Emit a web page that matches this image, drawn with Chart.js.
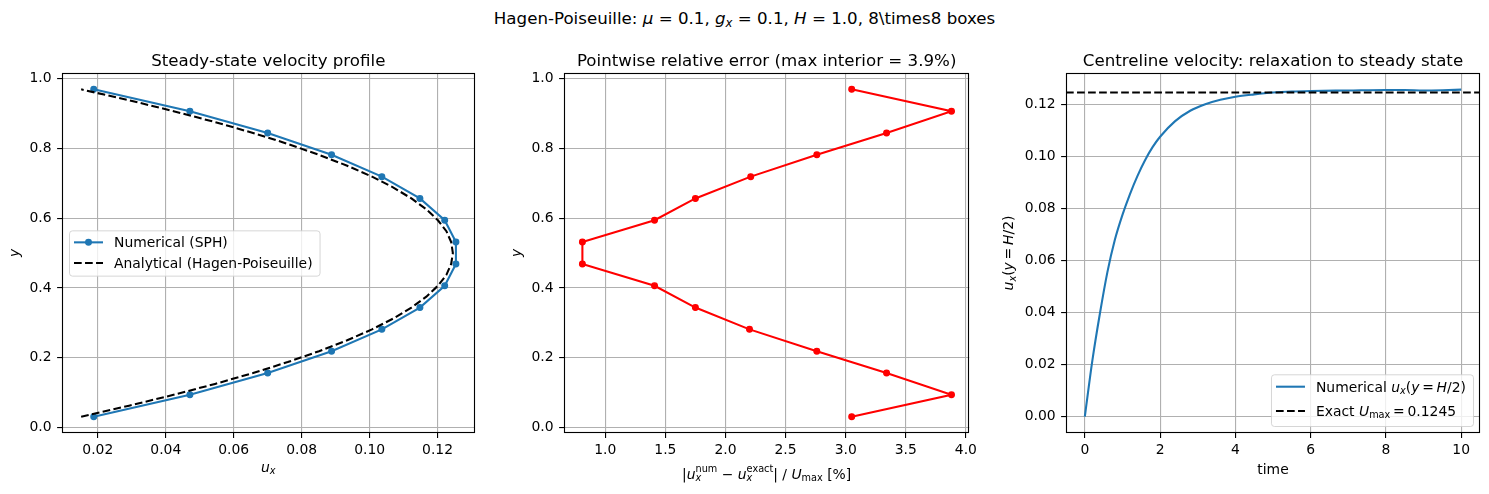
<!DOCTYPE html>
<html>
<head>
<meta charset="utf-8">
<script src="https://cdn.jsdelivr.net/npm/chart.js@4.4.1/dist/chart.umd.min.js"></script>
<style>
  body { margin: 0; background: #fff; width: 1489px; height: 494px; position: relative; overflow: hidden; font-family: 'DejaVu Sans', sans-serif; }
  canvas { position: absolute; }
  #suptitle { position: absolute; left: 0; top: 9px; width: 1489px; text-align: center; font-size: 16.67px; line-height: 20px; color: #000; }
  #suptitle sub { font-size: 0.7em; vertical-align: -0.25em; line-height: 0; }
</style>
</head>
<body>
<div id="suptitle">Hagen-Poiseuille: <i>μ</i> = 0.1, <i>g</i><sub><i>x</i></sub> = 0.1, <i>H</i> = 1.0, 8\times8 boxes</div>
<canvas id="profile"></canvas>
<canvas id="error"></canvas>
<canvas id="centre"></canvas>
<script>
// --- data ---
// particle rows (bottom -> top)
const yRows = [0.03125, 0.09375, 0.15625, 0.21875, 0.28125, 0.34375, 0.40625, 0.46875,
               0.53125, 0.59375, 0.65625, 0.71875, 0.78125, 0.84375, 0.90625, 0.96875];
const uNumerical = [0.0188, 0.0471, 0.0700, 0.0888, 0.1036, 0.1148, 0.1221, 0.1254,
                    0.1254, 0.1221, 0.1148, 0.1036, 0.0888, 0.0700, 0.0471, 0.0188];

// analytical profile (dashed)
const yFine = [0.03125, 0.0625, 0.09375, 0.125, 0.15625, 0.1875, 0.21875, 0.25, 0.28125, 0.3125,
               0.34375, 0.375, 0.40625, 0.4375, 0.46875, 0.5, 0.53125, 0.5625, 0.59375, 0.625,
               0.65625, 0.6875, 0.71875, 0.75, 0.78125, 0.8125, 0.84375, 0.875, 0.90625, 0.9375, 0.96875];
const uAnalytical = [0.0151, 0.0292, 0.0423, 0.0545, 0.0657, 0.0759, 0.0851, 0.0934, 0.1007, 0.1070,
                     0.1123, 0.1167, 0.1201, 0.1226, 0.1240, 0.1245, 0.1240, 0.1226, 0.1201, 0.1167,
                     0.1123, 0.1070, 0.1007, 0.0934, 0.0851, 0.0759, 0.0657, 0.0545, 0.0423, 0.0292, 0.0151];

// pointwise relative error [%]
const errPct = [3.05, 3.88, 3.34, 2.76, 2.20, 1.75, 1.41, 0.81,
                0.81, 1.41, 1.75, 2.21, 2.76, 3.34, 3.88, 3.05];

// centreline velocity vs time
const tSteps = [0, 0.2, 0.4, 0.6, 0.8, 1.0, 1.2, 1.4, 1.6, 1.8, 2.0, 2.4, 2.8, 3.2, 3.6, 4.0,
                4.5, 5.0, 5.5, 6.0, 7.0, 8.0, 8.5, 9.0, 9.5, 10.0];
const uCentre = [0, 0.0215, 0.0395, 0.0555, 0.0680, 0.0775, 0.0855, 0.0925, 0.0985, 0.1035, 0.1075,
                 0.1135, 0.1175, 0.1200, 0.1217, 0.1229, 0.1238, 0.1245, 0.1249, 0.1251, 0.1253,
                 0.1255, 0.1255, 0.1253, 0.1254, 0.1256];
const U_MAX = 0.1245;

// axis limits and ticks
const profXLim = [0.00946, 0.1309];
const rowYLim = [-0.0156, 1.0156];
const errXLim = [0.657, 4.028];
const timeLim = [-0.5, 10.5];
const centreYLim = [-0.0063, 0.1320];
const profXTicks = [0.02, 0.04, 0.06, 0.08, 0.10, 0.12];
const rowYTicks = [0.0, 0.2, 0.4, 0.6, 0.8, 1.0];
const errXTicks = [1.0, 1.5, 2.0, 2.5, 3.0, 3.5, 4.0];
const timeTicks = [0, 2, 4, 6, 8, 10];
const centreYTicks = [0, 0.02, 0.04, 0.06, 0.08, 0.10, 0.12];

const BLUE = '#1f77b4', RED = '#ff0000';
const LW = 2.08;                 // 1.5pt
const THIN = 1.11;               // 0.8pt
const DASH = [7.7, 3.33];
const TITLE_H = 40, X_AXIS_H = 61, PAD_R = 3;
const FONT = "'DejaVu Sans'";
const EQ = '\u2009=\u2009';

Chart.defaults.font.family = FONT + ", sans-serif";
Chart.defaults.color = '#000';

const pts = (xs, ys) => xs.map((x, i) => ({ x, y: ys[i] }));

// tiny mathtext-ish renderer: parts are [text, style, stackOnPrevious]
const STY = {
  r:  { it: false, k: 1,   dy: 0 },
  i:  { it: true,  k: 1,   dy: 0 },
  ib: { it: true,  k: 0.7, dy: 0.2 },
  rb: { it: false, k: 0.7, dy: 0.17 },
  rp: { it: false, k: 0.7, dy: -0.5 }
};
function layoutRich(ctx, parts, size) {
  let x = 0, prevStart = 0;
  const items = parts.map(([t, st, back]) => {
    const s = STY[st];
    const font = `${s.it ? 'italic ' : ''}${size * s.k}px ${FONT}`;
    ctx.font = font;
    const w = ctx.measureText(t).width;
    const x0 = back ? prevStart : x;
    prevStart = x0;
    x = Math.max(x, x0 + w);
    return { t, font, x: x0, dy: s.dy * size };
  });
  return { items, width: x };
}
function drawRich(ctx, parts, cx, cy, size, rotate, align) {
  const { items, width } = layoutRich(ctx, parts, size);
  const off = align === 'left' ? 0 : -width / 2;
  ctx.save();
  ctx.translate(cx, cy);
  if (rotate) ctx.rotate(-Math.PI / 2);
  ctx.fillStyle = '#000';
  ctx.textBaseline = 'alphabetic';
  ctx.textAlign = 'left';
  items.forEach(it => { ctx.font = it.font; ctx.fillText(it.t, off + it.x, it.dy); });
  ctx.restore();
}

// spines, subplot title and axis labels
const framePlugin = {
  id: 'frame',
  afterDatasetsDraw(chart, args, opts) {
    const { ctx, chartArea: a } = chart;
    ctx.save();
    ctx.strokeStyle = '#000';
    ctx.lineWidth = THIN;
    ctx.strokeRect(Math.round(a.left) + 0.5, Math.round(a.top) + 0.5,
                   Math.round(a.right - a.left) - 1, Math.round(a.bottom - a.top) - 1);
    ctx.fillStyle = '#000';
    ctx.font = `16.67px ${FONT}`;
    ctx.textAlign = 'center';
    ctx.textBaseline = 'alphabetic';
    ctx.fillText(opts.title, (a.left + a.right) / 2, a.top - 7.5);
    ctx.restore();
    drawRich(ctx, opts.xTitle, (a.left + a.right) / 2, a.bottom + opts.xDy, 13.9, false);
    drawRich(ctx, opts.yTitle, a.left - opts.yDx, (a.top + a.bottom) / 2, 13.9, true);
  }
};

// matplotlib-like legend inside the axes
const legendPlugin = {
  id: 'mplLegend',
  afterDraw(chart, args, opts) {
    if (!opts || !opts.loc) return;
    const { ctx, chartArea: a } = chart;
    const items = chart.data.datasets.filter(d => d.label);
    ctx.save();
    const textW = Math.max(...items.map(d => layoutRich(ctx, d.labelParts || [[d.label, 'r']], 13.9).width));
    const w = 45 + textW + 7;
    const h = opts.padTop + opts.rowStep * (items.length - 1) + opts.padBottom;
    let x0, y0;
    if (opts.loc === 'center left') { x0 = a.left + 7; y0 = (a.top + a.bottom) / 2 - h / 2; }
    else { x0 = a.right - 7 - w; y0 = a.bottom - 7 - h; }
    ctx.beginPath();
    ctx.roundRect(x0 + 0.5, y0 + 0.5, w, h, 3);
    ctx.fillStyle = 'rgba(255,255,255,0.8)';
    ctx.fill();
    ctx.strokeStyle = 'rgba(204,204,204,0.8)';
    ctx.lineWidth = 1;
    ctx.stroke();
    items.forEach((d, i) => {
      const y = y0 + opts.padTop + i * opts.rowStep;
      ctx.beginPath();
      ctx.setLineDash(d.borderDash || []);
      ctx.strokeStyle = d.borderColor;
      ctx.lineWidth = d.borderWidth;
      ctx.moveTo(x0 + 5, y);
      ctx.lineTo(x0 + 34, y);
      ctx.stroke();
      ctx.setLineDash([]);
      if (d.pointRadius > 0) {
        ctx.beginPath();
        ctx.arc(x0 + 19.5, y, d.pointRadius + d.pointBorderWidth / 2, 0, Math.PI * 2);
        ctx.fillStyle = d.borderColor;
        ctx.fill();
      }
      drawRich(ctx, d.labelParts || [[d.label, 'r']], x0 + 45, y + 5, 13.9, false, 'left');
    });
    ctx.restore();
  }
};

function linAxis(o) {
  return {
    type: 'linear',
    min: o.lim[0], max: o.lim[1],
    afterBuildTicks: s => { s.ticks = o.ticks.map(v => ({ value: v })); },
    afterFit: s => { if (o.w) s.width = o.w; if (o.h) s.height = o.h; },
    ticks: { callback: v => v.toFixed(o.dec), font: { size: 13.9 }, color: '#000',
             padding: o.w ? 5.5 : 4, maxRotation: 0, autoSkip: false },
    grid: { color: '#b0b0b0', lineWidth: THIN, tickColor: '#000', tickLength: 4.9, tickWidth: THIN },
    border: { display: false },
    title: { display: false }
  };
}

function makeChart(id, box, yW, labels, datasets, scales, legendOpts) {
  const c = document.getElementById(id);
  c.width = box.R - box.L + yW + PAD_R;
  c.height = box.B - box.T + TITLE_H + X_AXIS_H;
  c.style.left = (box.L - yW) + 'px';
  c.style.top = (box.T - TITLE_H) + 'px';
  return new Chart(c, {
    type: 'scatter',
    data: { datasets },
    options: {
      responsive: false, animation: false, devicePixelRatio: 1,
      layout: { padding: { left: 0, right: PAD_R, top: TITLE_H, bottom: 0 } },
      scales,
      plugins: {
        legend: { display: false },
        tooltip: { enabled: false },
        title: { display: false },
        frame: labels,
        mplLegend: legendOpts || {}
      }
    },
    plugins: [framePlugin, legendPlugin]
  });
}

// --- left: velocity profile ---
makeChart('profile', { L: 62, R: 477, T: 73, B: 433 }, 62, {
  title: 'Steady-state velocity profile',
  xTitle: [['u', 'i'], ['x', 'ib']], xDy: 38.5,
  yTitle: [['y', 'i']], yDx: 43.5
}, [
  { label: 'Numerical (SPH)', data: pts(uNumerical, yRows), showLine: true, order: 1,
    borderColor: BLUE, backgroundColor: BLUE, borderWidth: LW,
    pointRadius: 2.8, pointBorderWidth: 1.39, pointBorderColor: BLUE, pointBackgroundColor: BLUE },
  { label: 'Analytical (Hagen-Poiseuille)', data: pts(uAnalytical, yFine), showLine: true, order: 0,
    borderColor: '#000', borderWidth: LW, borderDash: DASH, pointRadius: 0 }
], {
  x: linAxis({ lim: profXLim, ticks: profXTicks, dec: 2, h: X_AXIS_H }),
  y: linAxis({ lim: rowYLim, ticks: rowYTicks, dec: 1, w: 62 })
}, { loc: 'center left', rowStep: 20.6, padTop: 12, padBottom: 12.7 });

// --- middle: relative error ---
makeChart('error', { L: 564, R: 978, T: 73, B: 433 }, 62, {
  title: 'Pointwise relative error (max interior = 3.9%)',
  xTitle: [['|', 'r'], ['u', 'i'], ['x', 'ib'], ['num', 'rp', true], [' − ', 'r'], ['u', 'i'], ['x', 'ib'],
           ['exact', 'rp', true], ['| / ', 'r'], ['U', 'i'], ['max', 'rb'], [' [%]', 'r']],
  xDy: 45.5,
  yTitle: [['y', 'i']], yDx: 43.5
}, [
  { label: '', data: pts(errPct, yRows), showLine: true,
    borderColor: RED, backgroundColor: RED, borderWidth: LW,
    pointRadius: 2.8, pointBorderWidth: 1.39, pointBorderColor: RED, pointBackgroundColor: RED }
], {
  x: linAxis({ lim: errXLim, ticks: errXTicks, dec: 1, h: X_AXIS_H }),
  y: linAxis({ lim: rowYLim, ticks: rowYTicks, dec: 1, w: 62 })
});

// --- right: centreline relaxation ---
makeChart('centre', { L: 1066, R: 1480, T: 73, B: 433 }, 72, {
  title: 'Centreline velocity: relaxation to steady state',
  xTitle: [['time', 'r']], xDy: 41,
  yTitle: [['u', 'i'], ['x', 'ib'], ['(', 'r'], ['y', 'i'], [EQ, 'r'], ['H', 'i'], ['/2)', 'r']], yDx: 53
}, [
  { label: 'Numerical u_x(y = H/2)', data: pts(tSteps, uCentre), showLine: true, order: 1,
    labelParts: [['Numerical ', 'r'], ['u', 'i'], ['x', 'ib'], ['(', 'r'], ['y', 'i'], [EQ, 'r'], ['H', 'i'], ['/2)', 'r']],
    borderColor: BLUE, borderWidth: LW, pointRadius: 0, cubicInterpolationMode: 'monotone' },
  { label: 'Exact U_max = 0.1245', data: pts(timeLim, [U_MAX, U_MAX]), showLine: true, order: 0,
    labelParts: [['Exact ', 'r'], ['U', 'i'], ['max', 'rb'], [EQ + '0.1245', 'r']],
    borderColor: '#000', borderWidth: LW, borderDash: DASH, pointRadius: 0 }
], {
  x: linAxis({ lim: timeLim, ticks: timeTicks, dec: 0, h: X_AXIS_H }),
  y: linAxis({ lim: centreYLim, ticks: centreYTicks, dec: 2, w: 72 })
}, { loc: 'lower right', rowStep: 24.3, padTop: 12.4, padBottom: 15 });
</script>
</body>
</html>
